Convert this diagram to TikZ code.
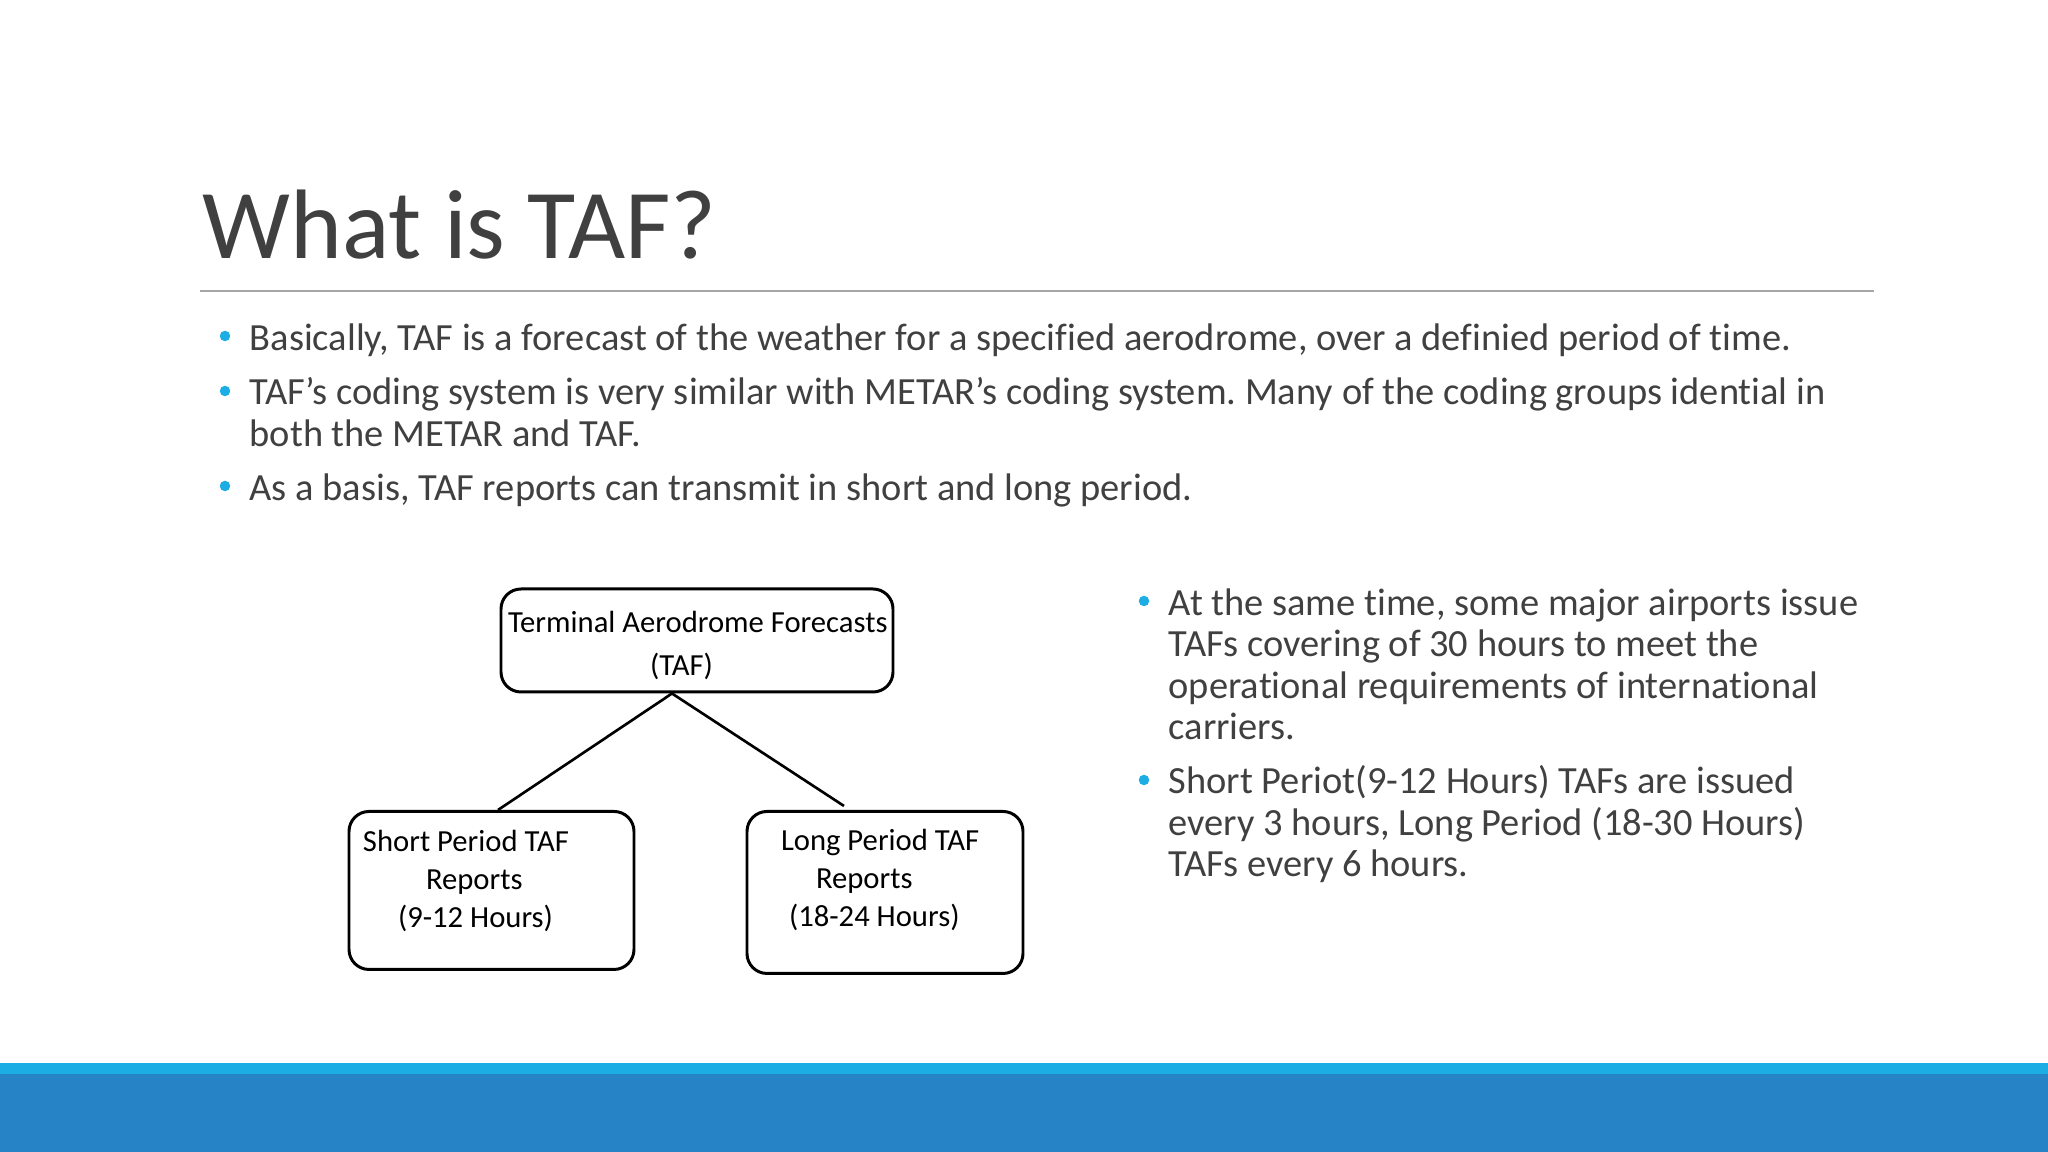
\documentclass[tikz,border=0pt]{standalone}
\usepackage{fontspec}
\setmainfont[Ligatures=CommonOff]{Carlito}
\usetikzlibrary{positioning}
\definecolor{bartop}{HTML}{1CADE4}
\definecolor{barbottom}{HTML}{2683C6}
\definecolor{bodygray}{HTML}{404040}
\newlength{\boxgap}
\setlength{\boxgap}{1.165cm}
\tikzstyle{block} = [rectangle, draw=black, rounded corners=0.2cm, line width=0.85pt, text=black, inner sep=0pt, align=flush left, text height=0.2cm, font=\fontsize{8.72}{10.7}\selectfont]
\tikzstyle{body} = [anchor=north west, inner sep=0pt, align=flush left, text=bodygray, font=\frenchspacing\fontsize{10.94}{11.8}\selectfont]
\tikzstyle{dot} = [circle, fill=bartop, inner sep=0pt, minimum size=0.105cm]
\tikzstyle{link} = [line width=0.75pt, black]

\begin{document}
\begin{tikzpicture}
    \useasboundingbox (0,0) rectangle (20.48,11.52);

    % Footer bars
    \fill [barbottom] (0,0) rectangle (20.48,0.78);
    \fill [bartop] (0,0.78) rectangle (20.48,0.89);

    % Title
    \node (title) [anchor=base west, inner sep=0pt, text=bodygray, font=\fontsize{28.1}{30}\selectfont] at (2.02,8.93) {What is TAF?};
    \coordinate (ruleleft) at (2.00,8.61);
    \coordinate (ruleright) at (18.74,8.61);
    \draw [line width=0.5pt, black!35] (ruleleft) -- (ruleright);

    % Upper text
    \node (first) [body] at (2.49,8.29) {Basically, TAF is a forecast of the weather for a specified aerodrome, over a definied period of time.};
    \node (second) [body] at (2.49,7.75) {TAF’s coding system is very similar with METAR’s coding system. Many of the coding groups idential in\\both the METAR and TAF.};
    \node (third) [body] at (2.49,6.79) {As a basis, TAF reports can transmit in short and long period.};
    \node (dot1) [dot] at (2.25,8.16) {};
    \node (dot2) [dot] at (2.25,7.61) {};
    \node (dot3) [dot] at (2.25,6.66) {};

    % Right text
    \node (airports) [body] at (11.68,5.64) {At the same time, some major airports issue\\TAFs covering of 30 hours to meet the\\operational requirements of international\\carriers.};
    \node (periods) [body] at (11.68,3.87) {Short Periot(9-12 Hours) TAFs are issued\\every 3 hours, Long Period (18-30 Hours)\\TAFs every 6 hours.};
    \node (dot4) [dot] at (11.44,5.51) {};
    \node (dot5) [dot] at (11.44,3.72) {};

    % Boxes
    \node (forecast) [block, text width=3.92cm, minimum height=1.03cm, text depth=0.35cm, font=\fontsize{8.72}{12.2}\selectfont] at (6.97,5.115) {\hspace*{0.07cm}Terminal Aerodrome Forecasts\\\hspace*{1.49cm}(TAF)};
    \node (short) [block, text width=2.85cm, minimum height=1.58cm, text depth=0.97cm, below=\boxgap of forecast, xshift=-2.055cm] {\hspace*{0.14cm}Short Period TAF\\\hspace*{0.77cm}Reports\\\hspace*{0.49cm}(9-12 Hours)};
    \node (long) [block, text width=2.76cm, minimum height=1.62cm, text depth=1.03cm, below=\boxgap of forecast, xshift=1.88cm] {\hspace*{0.34cm}Long Period TAF\\\hspace*{0.69cm}Reports\\\hspace*{0.42cm}(18-24 Hours)};

    % Connectors
    \coordinate (apex) at ([xshift=-0.25cm]forecast.south);
    \coordinate (shortend) at ([xshift=0.065cm]short.north);
    \coordinate (longend) at ([xshift=-0.41cm, yshift=0.04cm]long.north);
    \draw [link] (apex) -- (shortend);
    \draw [link] (apex) -- (longend);

\end{tikzpicture}
\end{document}
